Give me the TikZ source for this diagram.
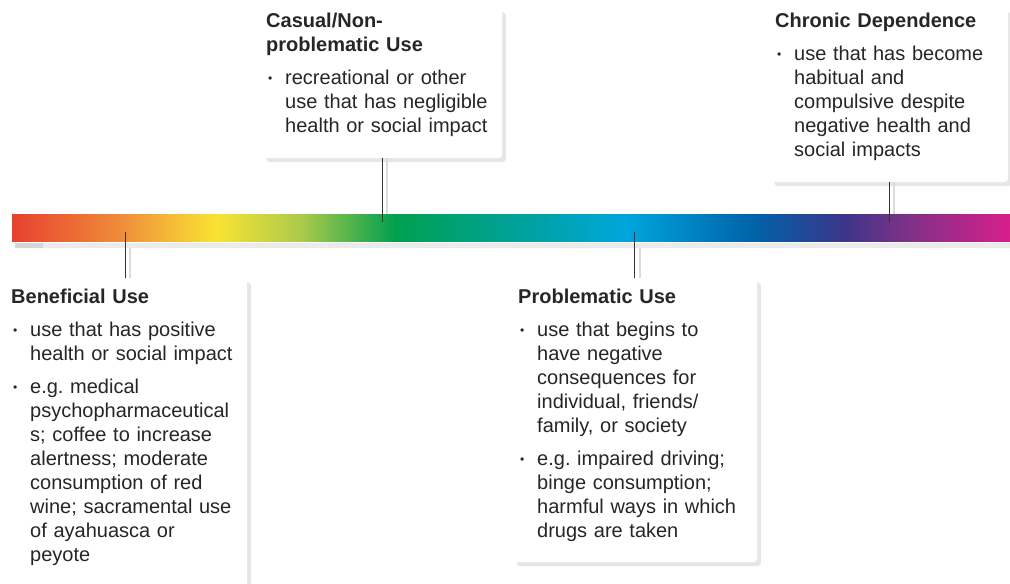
\documentclass[tikz,border=0pt]{standalone}
\usepackage{fontspec}
\setmainfont{Liberation Sans}
\usepackage{tikz}
\usetikzlibrary{shadows}

\definecolor{inkgray}{HTML}{262626}
\definecolor{panelshadow}{HTML}{E6E6E6}
\definecolor{stripgray}{HTML}{EBEBEB}
\definecolor{stripdark}{HTML}{D6D6DA}
\definecolor{leadergray}{HTML}{333333}
\definecolor{leadershadow}{HTML}{DCDCDC}

\definecolor{specA}{HTML}{E8412F}
\definecolor{specB}{HTML}{EF8C3A}
\definecolor{specC}{HTML}{F9E333}
\definecolor{specD}{HTML}{ADCB4A}
\definecolor{specE}{HTML}{00A04F}
\definecolor{specF}{HTML}{00A195}
\definecolor{specG}{HTML}{00A6DC}
\definecolor{specH}{HTML}{0062A8}
\definecolor{specI}{HTML}{3C3589}
\definecolor{specJ}{HTML}{7B3288}
\definecolor{specK}{HTML}{D81E8B}

\pgfdeclarehorizontalshading{spectrum}{100bp}{color(0bp)=(specA); color(25bp)=(specA);
  color(30.4bp)=(specB); color(35.2bp)=(specC); color(39.4bp)=(specD);
  color(44.2bp)=(specE); color(49.9bp)=(specF); color(55.7bp)=(specG);
  color(62.2bp)=(specH); color(66.7bp)=(specI); color(69.7bp)=(specJ);
  color(75bp)=(specK); color(100bp)=(specK)}

\newcommand{\useitem}{\par\vspace{9pt}\leftskip=19pt\noindent
  \llap{\makebox[19pt][l]{\hspace{2pt}\raisebox{1.5pt}{\fontsize{12}{12}\selectfont\textbullet}}}}

\begin{document}
\begin{tikzpicture}[x=1pt,y=1pt,
    panel/.style={fill=white,rounded corners=4pt,inner sep=0pt,anchor=north west,
      general shadow={fill=panelshadow,shadow xshift=4pt,shadow yshift=-4pt}},
    entry/.style={anchor=base west,inner sep=0pt,text width=260pt,align=left,
      text=inkgray,font=\fontsize{20}{24}\selectfont\frenchspacing},
    leader/.style={draw=leadergray,line width=0.9pt},
    leadershade/.style={draw=leadershadow,line width=1.6pt}]
    \useasboundingbox (0,0) rectangle (1010,-584);

    % colour scale
    \node (spectrum) [shading=spectrum,minimum width=998pt,minimum height=27pt,
      inner sep=0pt,anchor=north west] at (12,-214) {};
    \fill[stripgray] (15,-243) rectangle (1010,-248);
    \fill[stripdark] (15,-243) rectangle (43,-248);
    \coordinate (uptip) at (0,-222);
    \coordinate (downtip) at (0,-232);
    \coordinate (stripend) at (0,-248);

    % panels
    \node (casualbox) [panel,minimum width=240pt,minimum height=150pt] at (262,-8) {};
    \node (chronicbox) [panel,minimum width=238pt,minimum height=174pt] at (770,-8) {};
    \node (benefitbox) [panel,minimum width=244pt,minimum height=330pt] at (3,-278) {};
    \node (problembox) [panel,minimum width=245pt,minimum height=284pt] at (512,-278) {};

    % leaders
    \foreach \b in {casualbox,chronicbox} {
      \draw[leadershade] ([xshift=5pt]\b.south) -- ([xshift=5pt]\b.south |- spectrum.north);
      \draw[leader] (\b.south) -- (\b.south |- uptip);
    }
    \foreach \b in {benefitbox,problembox} {
      \draw[leadershade] ([xshift=5pt]\b.north) -- ([xshift=5pt]\b.north |- stripend);
      \draw[leader] (\b.north) -- (\b.north |- downtip);
    }

    % texts
    \node (casual) [entry] at (266,-27) {{\bfseries Casual/Non-\\problematic Use}
      \useitem recreational or other\\use that has negligible\\health or social impact\par};
    \node (chronic) [entry] at (775,-27) {{\bfseries Chronic Dependence}
      \useitem use that has become\\habitual and\\compulsive despite\\negative health and\\social impacts\par};
    \node (benefit) [entry] at (11,-303) {{\bfseries Beneficial Use}
      \useitem use that has positive\\health or social impact
      \useitem e.g. medical\\psychopharmaceutical\\s; coffee to increase\\alertness; moderate\\consumption of red\\wine; sacramental use\\of ayahuasca or\\peyote\par};
    \node (problem) [entry] at (518,-303) {{\bfseries Problematic Use}
      \useitem use that begins to\\have negative\\consequences for\\individual, friends/\\family, or society
      \useitem e.g. impaired driving;\\binge consumption;\\harmful ways in which\\drugs are taken\par};
\end{tikzpicture}
\end{document}
